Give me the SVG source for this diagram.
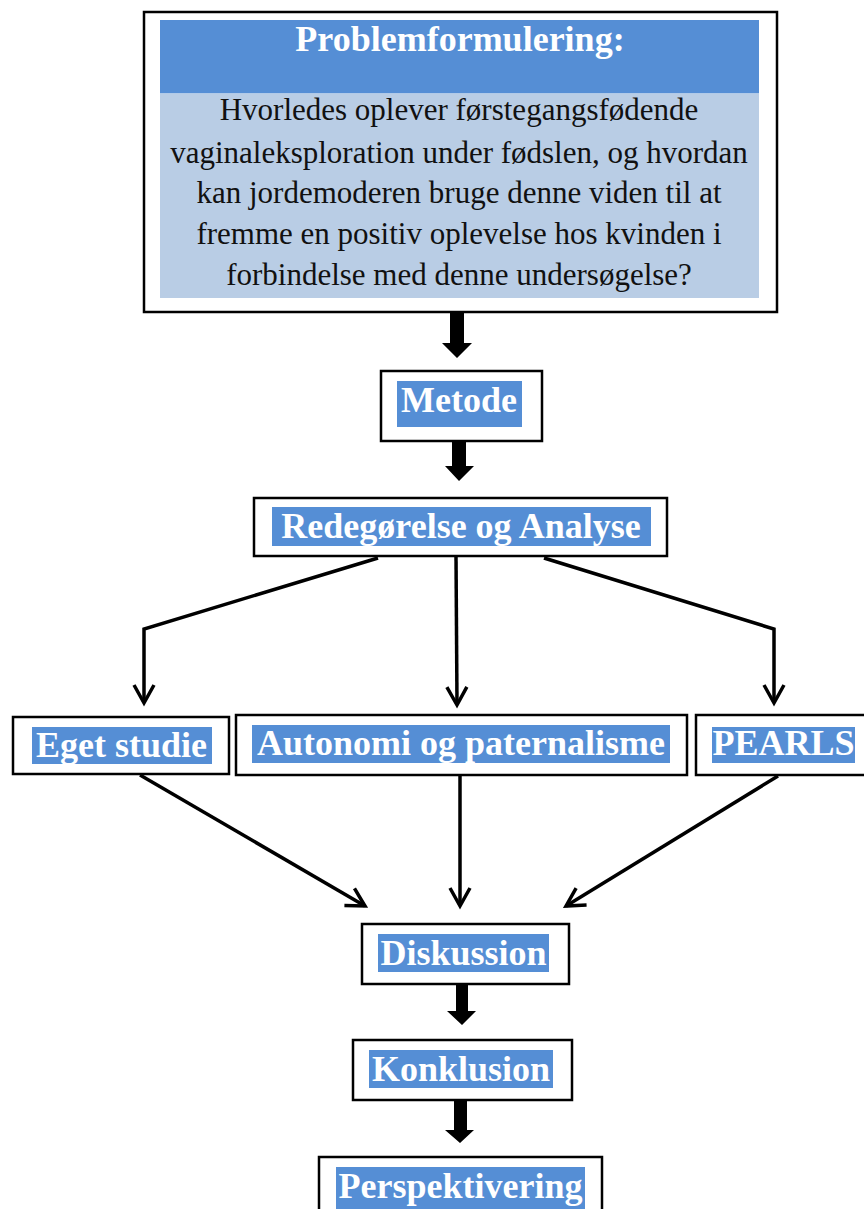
<svg xmlns="http://www.w3.org/2000/svg" width="864" height="1209" viewBox="0 0 864 1209">
<style>
.box{fill:#fff;stroke:#000;stroke-width:2.5}
.hl{fill:#558ed5}
.lbl{font-family:"Liberation Serif","Times New Roman",serif;font-weight:bold;font-size:36px;fill:#fff;text-anchor:middle}
.body{font-family:"Liberation Serif","Times New Roman",serif;font-size:31px;fill:#111;text-anchor:middle}
.ln{fill:none;stroke:#000;stroke-width:3.5;stroke-linejoin:miter}
.blk{fill:#000}
</style>
<defs>
<marker id="v" viewBox="0 0 20 20" markerUnits="userSpaceOnUse" markerWidth="20" markerHeight="20" refX="19" refY="10" orient="auto" overflow="visible">
<path d="M1,0 L19,10 L1,20" fill="none" stroke="#000" stroke-width="3.5"/>
</marker>
</defs>
<rect width="864" height="1209" fill="#fff"/>

<g id="problem">
<rect class="box" x="144" y="12" width="633" height="300"/>
<rect x="160" y="20" width="599" height="73.5" fill="#558ed5"/>
<rect x="160" y="93.5" width="599" height="204.5" fill="#b9cde5"/>
<text class="lbl" x="460" y="51">Problemformulering:</text>
<text class="body" x="459" y="120">Hvorledes oplever førstegangsfødende</text>
<text class="body" x="459" y="162.5">vaginaleksploration under fødslen, og hvordan</text>
<text class="body" x="459" y="203">kan jordemoderen bruge denne viden til at</text>
<text class="body" x="459" y="243.5">fremme en positiv oplevelse hos kvinden i</text>
<text class="body" x="459" y="285">forbindelse med denne undersøgelse?</text>
</g>

<g id="metode">
<rect class="box" x="381" y="371" width="161" height="70"/>
<rect class="hl" x="397" y="381" width="125" height="46"/>
<text class="lbl" x="459" y="412">Metode</text>
</g>

<g id="redegorelse">
<rect class="box" x="254" y="498" width="413" height="58"/>
<rect class="hl" x="272" y="507" width="379" height="39"/>
<text class="lbl" x="461" y="538">Redegørelse og Analyse</text>
</g>

<g id="eget">
<rect class="box" x="13" y="717" width="216" height="57"/>
<rect class="hl" x="32" y="727" width="180" height="37"/>
<text class="lbl" x="121.5" y="757">Eget studie</text>
</g>

<g id="autonomi">
<rect class="box" x="236" y="715" width="451" height="60"/>
<rect class="hl" x="252" y="725" width="418" height="38"/>
<text class="lbl" x="461" y="755">Autonomi og paternalisme</text>
</g>

<g id="pearls">
<rect class="box" x="696" y="715" width="172" height="60"/>
<rect class="hl" x="712" y="727" width="143" height="36"/>
<text class="lbl" x="783.5" y="755">PEARLS</text>
</g>

<g id="diskussion">
<rect class="box" x="362" y="924" width="207" height="60"/>
<rect class="hl" x="378" y="934" width="171" height="38"/>
<text class="lbl" x="463.5" y="965">Diskussion</text>
</g>

<g id="konklusion">
<rect class="box" x="353" y="1040" width="219" height="60"/>
<rect class="hl" x="369" y="1050" width="184" height="38"/>
<text class="lbl" x="461" y="1081">Konklusion</text>
</g>

<g id="perspektivering">
<rect class="box" x="319" y="1157" width="283" height="70"/>
<rect class="hl" x="336" y="1167" width="249" height="50"/>
<text class="lbl" x="460.5" y="1198">Perspektivering</text>
</g>

<g id="connectors">
<polygon class="blk" points="450,312 464,312 464,343 472,343 457,358 442,343 450,343"/>
<polygon class="blk" points="452,441 466,441 466,466 474,466 459,481 445,466 452,466"/>
<polygon class="blk" points="456,984 468,984 468,1011 476,1011 462,1025 447,1011 456,1011"/>
<polygon class="blk" points="454,1100 467,1100 467,1130 474,1130 460,1143 445,1130 454,1130"/>
<polyline class="ln" points="378,558 144,629 144,703" marker-end="url(#v)"/>
<line class="ln" x1="456" y1="556" x2="457" y2="705" marker-end="url(#v)"/>
<polyline class="ln" points="544,558 774,629 774,703" marker-end="url(#v)"/>
<line class="ln" x1="140" y1="775" x2="365" y2="906" marker-end="url(#v)"/>
<line class="ln" x1="460" y1="775" x2="460" y2="906" marker-end="url(#v)"/>
<line class="ln" x1="778" y1="776" x2="566" y2="906" marker-end="url(#v)"/>
</g>
</svg>
